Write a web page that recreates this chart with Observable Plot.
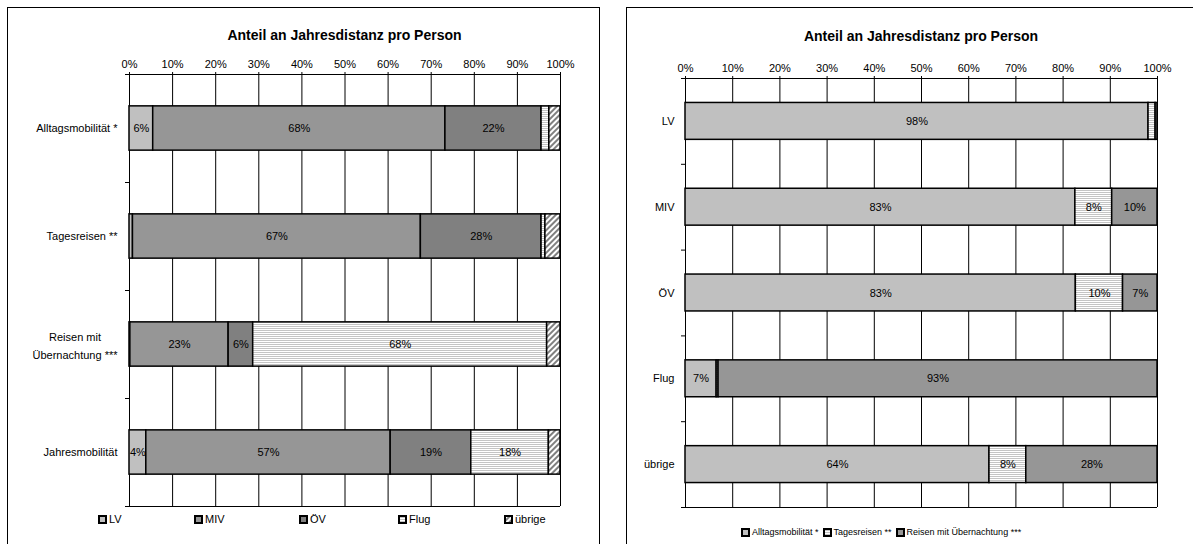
<!DOCTYPE html>
<html><head><meta charset="utf-8">
<script src="https://cdn.jsdelivr.net/npm/d3@7"></script>
<script src="https://cdn.jsdelivr.net/npm/@observablehq/plot@0.6"></script>
<style>
html,body{margin:0;padding:0;background:#fff;}
#root{position:relative;width:1193px;height:544px;overflow:hidden;font-family:"Liberation Sans",Arial,sans-serif;color:#000;background:#fff;}
.panel{position:absolute;top:7px;height:600px;border:1.5px solid #000;box-sizing:border-box;}
.title{position:absolute;font-weight:bold;font-size:14px;transform:translate(-50%,-50%);white-space:nowrap;}
.chart{position:absolute;top:0;}
.leg{position:absolute;display:flex;align-items:center;white-space:nowrap;transform:translateY(-50%);}
.leg svg{display:block;margin-right:2px;}
</style>
</head><body>
<svg width="0" height="0" style="position:absolute">
  <defs>
    <pattern id="stripes" patternUnits="userSpaceOnUse" width="6" height="2">
      <rect width="6" height="2" fill="#ffffff"/>
      <rect width="6" height="1" fill="#c4c4c4"/>
    </pattern>
    <pattern id="hatch" patternUnits="userSpaceOnUse" width="4" height="4" patternTransform="rotate(45)">
      <rect width="4" height="4" fill="#ffffff"/>
      <rect width="2" height="4" fill="#808080"/>
    </pattern>
  </defs>
</svg>
<div id="root">
  <div class="panel" style="left:7px;width:593px;"></div>
  <div class="panel" style="left:626px;width:600px;"></div>
</div>
<script>
// ---------- data: left chart (share of annual distance by mode, per mobility segment) ----------
const leftCategories = ["Alltagsmobilität *", "Tagesreisen **", "Reisen mit\nÜbernachtung ***", "Jahresmobilität"];
const leftSeries = ["LV", "MIV", "ÖV", "Flug", "übrige"];
const leftLV      = [5.5, 0.8, 0.2, 3.9];
const leftMIV     = [67.8, 66.8, 22.8, 56.7];
const leftOEV     = [22.3, 28.0, 5.7, 18.7];
const leftFlug    = [1.8, 0.9, 68.2, 18.0];
const leftUebrige = [2.6, 3.5, 3.1, 2.7];

// ---------- data: right chart (share by segment, per mode) ----------
const rightCategories = ["LV", "MIV", "ÖV", "Flug", "übrige"];
const rightSeries = ["Alltagsmobilität *", "Tagesreisen **", "Reisen mit Übernachtung ***"];
const rightAlltag = [98.1, 82.6, 82.7, 6.6, 64.4];
const rightTages  = [1.5, 7.8, 10.0, 0.4, 7.8];
const rightReisen = [0.4, 9.6, 7.3, 93.0, 27.8];

const xTicks = [0, 10, 20, 30, 40, 50, 60, 70, 80, 90, 100];
const titleText = "Anteil an Jahresdistanz pro Person";

const FONT = "'Liberation Sans', Arial, sans-serif";
function textWidth(s, font) {
  const c = document.createElement("canvas").getContext("2d");
  c.font = font;
  return c.measureText(s).width;
}

function makeChart(cfg) {
  const {cats, series, values, colors, width, height, mL, mR, mT, mB, half, dxLabel} = cfg;
  const n = cats.length;
  const rows = [];
  cats.forEach((c, i) => {
    let acc = 0;
    series.forEach((s, j) => {
      const v = values[j][i];
      rows.push({cat: c, i, series: s, value: v, x1: acc, x2: acc + v});
      acc += v;
    });
  });
  const catRows = cats.map((c, i) => ({c, i}));
  const single = catRows.filter(d => !d.c.includes("\n"));
  const multi = catRows.filter(d => d.c.includes("\n"));
  const multiMarks = multi.map(m => {
    const w = d3.max(m.c.split("\n"), l => textWidth(l, "11px " + FONT));
    return Plot.text([m], {x: 0, y: d => d.i + 0.5, text: d => d.c, textAnchor: "middle", dx: dxLabel - w / 2, lineHeight: 1.6, fontSize: 11});
  });
  return Plot.plot({
    width, height,
    marginLeft: mL, marginRight: mR, marginTop: mT, marginBottom: mB,
    x: {domain: [0, 100]},
    y: {domain: [0, n], reverse: true},
    color: {domain: series, range: colors},
    style: {fontFamily: FONT, fontSize: "11px", background: "transparent", overflow: "visible", color: "#000"},
    marks: [
      Plot.ruleX(xTicks, {stroke: "#000", strokeWidth: 1}),
      Plot.ruleY([0, n], {stroke: "#000", strokeWidth: 1.2}),
      Plot.axisX(xTicks, {anchor: "top", tickFormat: d => d + "%", tickSize: 3, tickPadding: 4, label: null, fontSize: 11}),
      Plot.axisY(d3.range(n + 1), {anchor: "left", tickSize: 4, tickFormat: () => "", label: null}),
      Plot.rect(rows, {x1: "x1", x2: "x2", y1: d => d.i + 0.5 - half, y2: d => d.i + 0.5 + half, fill: "series", stroke: "#000", strokeWidth: 1.5}),
      Plot.text(rows.filter(d => d.value >= 3.7), {x: d => (d.x1 + d.x2) / 2, y: d => d.i + 0.5, text: d => Math.round(d.value) + "%", fontSize: 11}),
      Plot.text(single, {x: 0, y: d => d.i + 0.5, text: d => d.c, textAnchor: "end", dx: dxLabel, fontSize: 11}),
      ...multiMarks
    ]
  });
}

const root = document.getElementById("root");

const leftColors = ["#c0c0c0", "#969696", "#808080", "url(#stripes)", "url(#hatch)"];
const rightColors = ["#c0c0c0", "url(#stripes)", "#969696"];

const left = makeChart({
  cats: leftCategories, series: leftSeries,
  values: [leftLV, leftMIV, leftOEV, leftFlug, leftUebrige],
  colors: leftColors, width: 600, height: 544,
  mL: 129, mR: 40, mT: 74, mB: 38, half: 0.205, dxLabel: -12
});
left.classList.add("chart");
left.style.left = "0px";
root.appendChild(left);

const right = makeChart({
  cats: rightCategories, series: rightSeries,
  values: [rightAlltag, rightTages, rightReisen],
  colors: rightColors, width: 593, height: 544,
  mL: 85, mR: 36, mT: 78, mB: 37, half: 0.215, dxLabel: -11
});
right.classList.add("chart");
right.style.left = "600px";
root.appendChild(right);

function addTitle(x, y) {
  const t = document.createElement("div");
  t.className = "title";
  t.textContent = titleText;
  t.style.left = x + "px";
  t.style.top = y + "px";
  root.appendChild(t);
}
addTitle(344.5, 35);
addTitle(921, 36);

function swatch(fill, size) {
  const ns = "http://www.w3.org/2000/svg";
  const s = document.createElementNS(ns, "svg");
  s.setAttribute("width", size); s.setAttribute("height", size);
  const r = document.createElementNS(ns, "rect");
  r.setAttribute("x", 1); r.setAttribute("y", 1);
  r.setAttribute("width", size - 2); r.setAttribute("height", size - 2);
  r.setAttribute("fill", fill); r.setAttribute("stroke", "#000"); r.setAttribute("stroke-width", 2);
  s.appendChild(r);
  return s;
}

// left legend
const leftLegendX = [98, 194, 299, 398, 504];
leftSeries.forEach((s, i) => {
  const d = document.createElement("div");
  d.className = "leg";
  d.style.left = leftLegendX[i] + "px";
  d.style.top = "519px";
  d.style.fontSize = "11px";
  d.appendChild(swatch(leftColors[i], 9));
  d.appendChild(document.createTextNode(s));
  root.appendChild(d);
});

// right legend
const rl = document.createElement("div");
rl.className = "leg";
rl.style.left = "741px";
rl.style.top = "532px";
rl.style.fontSize = "9px";
rightSeries.forEach((s, i) => {
  const sp = document.createElement("span");
  sp.style.display = "flex"; sp.style.alignItems = "center"; sp.style.marginRight = i < rightSeries.length - 1 ? "4px" : "0";
  sp.appendChild(swatch(rightColors[i], 9));
  sp.appendChild(document.createTextNode(s));
  rl.appendChild(sp);
});
root.appendChild(rl);
</script>
</body></html>
